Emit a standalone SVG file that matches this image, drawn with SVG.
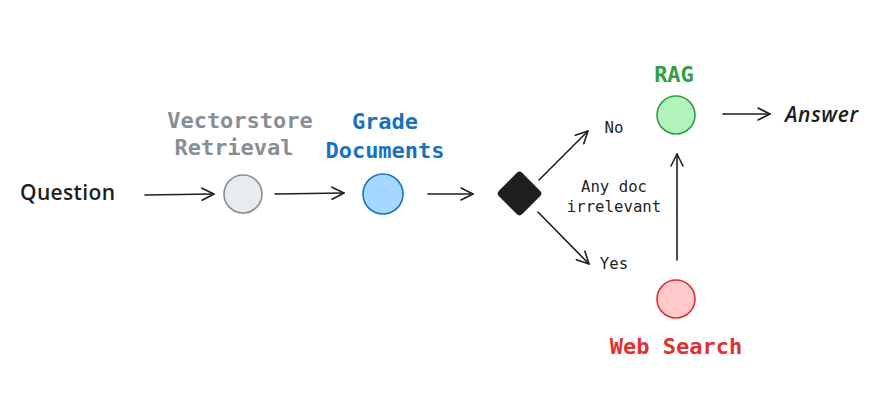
<svg xmlns="http://www.w3.org/2000/svg" width="879" height="402" viewBox="0 0 879 402">
<style>
.bg{fill:#ffffff}
.hand{font-family:"Open Sans","Liberation Sans",sans-serif;font-size:21px;fill:#1e1e1e;font-weight:600}
.mono{font-family:"DejaVu Sans Mono","Liberation Mono",monospace;text-anchor:middle}
.lbl{font-size:22px;font-weight:bold}
.small{font-size:15.7px;fill:#1e1e1e}
.edge{fill:none;stroke:#1e1e1e;stroke-width:1.6;stroke-linecap:round}
</style>
<defs>
<marker id="ah" viewBox="0 0 14 14" refX="13" refY="7" markerWidth="14" markerHeight="14" markerUnits="userSpaceOnUse" orient="auto">
<path d="M1,1 L13,7 L1,13" fill="none" stroke="#1e1e1e" stroke-width="1.6" stroke-linecap="round" stroke-linejoin="round"/>
</marker>
</defs>
<rect class="bg" width="879" height="402"/>
<g id="question"><text class="hand" x="20" y="200" textLength="95">Question</text></g>
<g id="vectorstore">
<circle cx="243" cy="194" r="19" fill="#e9ecef" stroke="#868e96" stroke-width="1.6"/>
<text class="mono lbl" x="240" y="128" fill="#868e96">Vectorstore</text>
<text class="mono lbl" x="234" y="155" fill="#868e96">Retrieval</text>
</g>
<g id="grade">
<circle cx="383" cy="194" r="20" fill="#a5d8ff" stroke="#1971c2" stroke-width="1.6"/>
<text class="mono lbl" x="385" y="129" fill="#1971c2">Grade</text>
<text class="mono lbl" x="385" y="158" fill="#1971c2">Documents</text>
</g>
<g id="decision">
<rect x="503" y="177" width="33" height="33" rx="4" fill="#1e1e1e" transform="rotate(45 519.5 193.5)"/>
<text class="mono small" x="614" y="192">Any doc</text>
<text class="mono small" x="614" y="212">irrelevant</text>
<text class="mono small" x="614" y="133">No</text>
<text class="mono small" x="614" y="269">Yes</text>
</g>
<g id="rag">
<circle cx="676" cy="115" r="19" fill="#b2f2bb" stroke="#2f9e44" stroke-width="1.6"/>
<text class="mono lbl" x="674" y="82" fill="#2f9e44">RAG</text>
</g>
<g id="websearch">
<circle cx="676" cy="299" r="19" fill="#ffc9c9" stroke="#e03131" stroke-width="1.6"/>
<text class="mono lbl" x="676" y="354" fill="#e03131">Web Search</text>
</g>
<g id="answer"><text class="hand" x="785" y="122" font-style="italic" textLength="73">Answer</text></g>
<g id="connectors">
<path class="edge" d="M145,195 L214,194" marker-end="url(#ah)"/>
<path class="edge" d="M275,194 L344,193" marker-end="url(#ah)"/>
<path class="edge" d="M428,194 L473,194" marker-end="url(#ah)"/>
<path class="edge" d="M539,180 L588,131" marker-end="url(#ah)"/>
<path class="edge" d="M538,212 L589,264" marker-end="url(#ah)"/>
<path class="edge" d="M677,260 L677,154" marker-end="url(#ah)"/>
<path class="edge" d="M723,114 L770,114" marker-end="url(#ah)"/>
</g>
</svg>
